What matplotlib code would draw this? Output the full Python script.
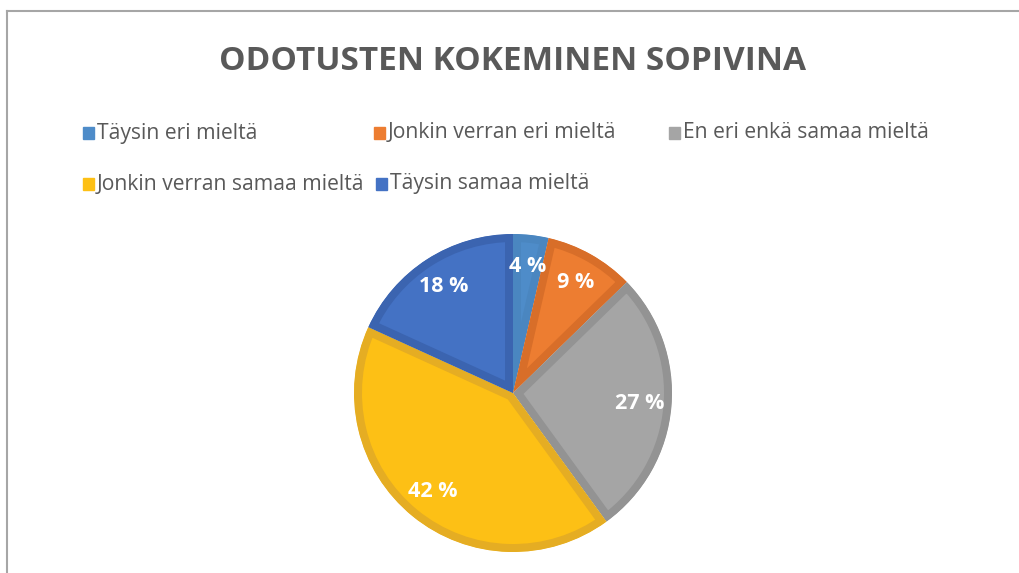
import matplotlib
matplotlib.use("Agg")
import matplotlib.pyplot as plt
from matplotlib.patches import Rectangle
from matplotlib.lines import Line2D

categories = ["Täysin eri mieltä", "Jonkin verran eri mieltä", "En eri enkä samaa mieltä",
              "Jonkin verran samaa mieltä", "Täysin samaa mieltä"]
values = [3.6, 9.1, 27.3, 41.8, 18.2]
title = "ODOTUSTEN KOKEMINEN SOPIVINA"

fill_colors = ["#4E8CC9", "#ED7D31", "#A5A5A5", "#FDC015", "#4472C4"]
edge_colors = ["#4A86C0", "#D86E29", "#939393", "#E5AD23", "#3B64B0"]

plt.rcParams["font.family"] = ["Open Sans", "DejaVu Sans"]

W, H = 1020, 573
fig = plt.figure(figsize=(W / 100, H / 100), dpi=100)

# border lines (top and left)
fig.add_artist(Line2D([7 / W, 1], [1 - 11 / H, 1 - 11 / H], color="#A6A6A6", lw=1.5))
fig.add_artist(Line2D([7 / W, 7 / W], [0, 1 - 11 / H], color="#A6A6A6", lw=1.5))

fig.text(513 / W, 1 - 62 / H, title, ha="center", va="center", fontsize=24,
         fontweight="bold", color="#595959")

# legend (flow layout)
leg_pos = [(83, 133), (374, 133), (669, 133), (83, 184), (376, 184)]
for (x, y), lab, c in zip(leg_pos, categories, fill_colors):
    fig.add_artist(Rectangle((x / W, 1 - (y + 6) / H), 11 / W, 12 / H, color=c,
                             transform=fig.transFigure))
    fig.text((x + 14) / W, 1 - y / H, lab, ha="left", va="center", fontsize=15.2,
             color="#595959")

cx, cy, R = 513, 393, 159
ax = fig.add_axes([(cx - R) / W, (H - cy - R) / H, 2 * R / W, 2 * R / H])
wedges, texts, autotexts = ax.pie(values, colors=fill_colors, startangle=90,
                                  counterclock=False, radius=1,
                                  autopct=lambda p: f"{p:.0f} %", pctdistance=0.8,
                                  textprops=dict(color="white", fontsize=15.5,
                                                 fontweight="bold"))
for w, ec in zip(wedges, edge_colors):
    w.set_edgecolor(ec)
    w.set_linewidth(11.5)
    w.set_clip_on(True)
    w.set_clip_path(w)
ax.set_xlim(-1, 1)
ax.set_ylim(-1, 1)
ax.set_aspect("equal")
ax.axis("off")

fig.savefig("out.png", dpi=100, facecolor="white")
